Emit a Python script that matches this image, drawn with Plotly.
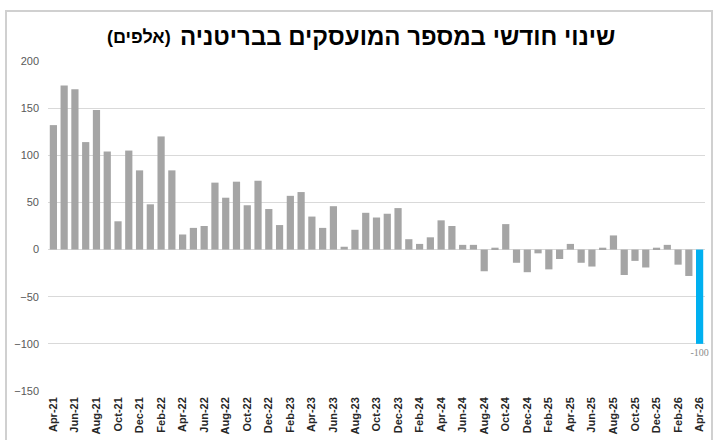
import plotly.graph_objects as go

months = [
    "Apr-21", "May-21", "Jun-21", "Jul-21", "Aug-21", "Sep-21", "Oct-21", "Nov-21", "Dec-21",
    "Jan-22", "Feb-22", "Mar-22", "Apr-22", "May-22", "Jun-22", "Jul-22", "Aug-22", "Sep-22", "Oct-22", "Nov-22", "Dec-22",
    "Jan-23", "Feb-23", "Mar-23", "Apr-23", "May-23", "Jun-23", "Jul-23", "Aug-23", "Sep-23", "Oct-23", "Nov-23", "Dec-23",
    "Jan-24", "Feb-24", "Mar-24", "Apr-24", "May-24", "Jun-24", "Jul-24", "Aug-24", "Sep-24", "Oct-24", "Nov-24", "Dec-24",
    "Jan-25", "Feb-25", "Mar-25", "Apr-25", "May-25", "Jun-25", "Jul-25", "Aug-25", "Sep-25", "Oct-25", "Nov-25", "Dec-25",
    "Jan-26", "Feb-26", "Mar-26", "Apr-26",
]
values = [
    132, 174, 170, 114, 148, 104, 30, 105, 84,
    48, 120, 84, 16, 23, 25, 71, 55, 72, 47, 73, 43,
    26, 57, 61, 35, 23, 46, 3, 21, 39, 34, 38, 44,
    11, 6, 13, 31, 25, 5, 5, -23, 2, 27, -14, -24,
    -4, -21, -10, 6, -14, -18, 2, 15, -27, -12, -19, 2,
    5, -16, -28, -100,
]
tick_labels = months[::2]
y_ticks = [-150, -100, -50, 0, 50, 100, 150, 200]
title_main = "שינוי חודשי במספר המועסקים בבריטניה"
title_unit = "(אלפים)"

GRAY = "#A5A5A5"
BLUE = "#00B0F0"
colors = [GRAY] * (len(values) - 1) + [BLUE]
texts = [""] * (len(values) - 1) + [str(values[-1])]

fig = go.Figure()
fig.add_trace(go.Bar(
    x=months, y=values,
    marker=dict(color=colors, line=dict(width=0)),
    text=texts, textposition="outside", constraintext="none",
    textfont=dict(size=10, color="#8C8C8C", family="Liberation Serif"),
    cliponaxis=False,
    hoverinfo="x+y",
))

fig.update_layout(
    width=719, height=440,
    margin=dict(l=48, r=14, t=61, b=49, autoexpand=False),
    paper_bgcolor="white", plot_bgcolor="white",
    bargap=0.33,
    showlegend=False,
    font=dict(family="Liberation Sans, Arial, sans-serif"),
    xaxis=dict(
        type="category", automargin=False,
        tickmode="array", tickvals=tick_labels, ticktext=["<b>" + t + "</b>" for t in tick_labels],
        tickangle=-90,
        tickfont=dict(size=11, color="#262626", family="Liberation Sans"),
        showgrid=False, showline=False, ticks="",
        ticklabelstandoff=3,
    ),
    yaxis=dict(
        range=[-150, 200], automargin=False,
        tickmode="array", tickvals=y_ticks,
        tickfont=dict(size=11, color="#595959"),
        showgrid=True, gridcolor="#D9D9D9", gridwidth=1,
        zeroline=True, zerolinecolor="#D9D9D9", zerolinewidth=1,
        showline=False, ticks="",
        ticklabelstandoff=8,
    ),
    shapes=[
        dict(type="rect", xref="paper", yref="paper",
             x0=(6 - 48) / 657, x1=(712 - 48) / 657,
             y0=-0.25, y1=(391 - 11) / 330,
             line=dict(color="#D0D0D0", width=2), fillcolor="rgba(0,0,0,0)",
             layer="below"),
    ],
    annotations=[
        dict(text="<b>" + title_main + "</b>", xref="paper", yref="paper",
             x=(617 - 48) / 657, y=(391 - 36) / 330, xanchor="right", yanchor="middle",
             showarrow=False, font=dict(size=24, color="#000000", family="Liberation Sans")),
        dict(text="<b>" + title_unit + "</b>", xref="paper", yref="paper",
             x=(173 - 48) / 657, y=(391 - 37) / 330, xanchor="right", yanchor="middle",
             showarrow=False, font=dict(size=18, color="#000000", family="Liberation Sans")),
    ],
)

fig.write_html("out.html")
